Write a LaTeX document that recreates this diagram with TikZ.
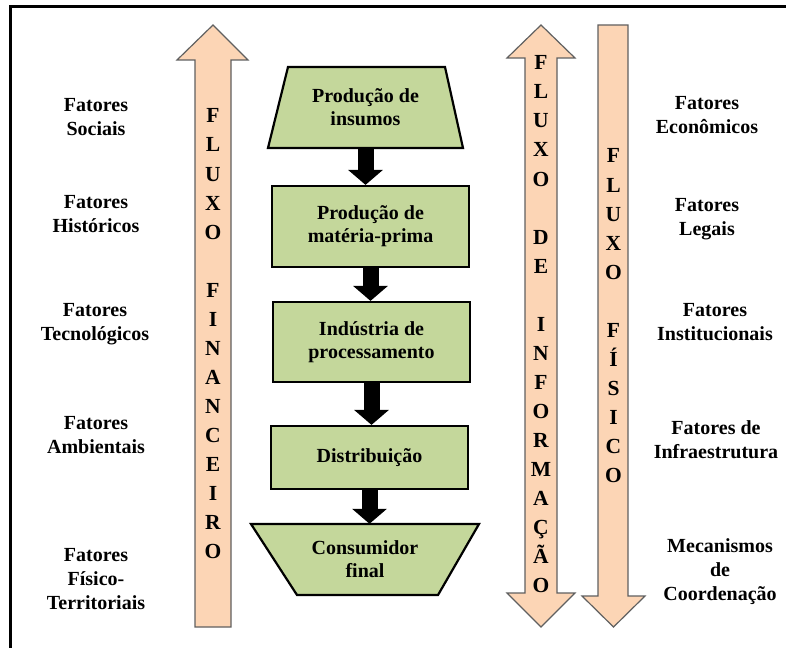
\documentclass[tikz,border=0pt]{standalone}
\usepackage{fontspec}
\setmainfont{Liberation Serif}
\usetikzlibrary{arrows.meta}
\definecolor{boxgreen}{HTML}{C4D79B}
\definecolor{peach}{HTML}{FCD5B5}
\definecolor{arrgray}{HTML}{606060}
\begin{document}
\begin{tikzpicture}[x=1pt,y=-1pt,
  lbl/.style={font=\bfseries\fontsize{20}{24}\selectfont, align=center, inner sep=0pt},
  letter/.style={font=\bfseries\fontsize{21.5}{24}\selectfont, anchor=base, inner sep=0pt},
  stage/.style={draw=black, line width=2.2pt, fill=boxgreen, minimum width=197pt,
    font=\bfseries\fontsize{20}{23}\selectfont, align=center, inner sep=0pt},
  stagetext/.style={font=\bfseries\fontsize{20}{23}\selectfont, align=center, inner sep=0pt},
  stageshape/.style={draw=black, line width=2.2pt, fill=boxgreen, line join=miter},
  flow/.style={fill=peach, draw=arrgray, line width=1.2pt, line join=miter},
  link/.style={line width=16pt, black, -{Triangle[width=34pt,length=15pt]}}
]
\useasboundingbox (0,0) rectangle (786,647);
\clip (0,0) rectangle (786,647);
\fill[white] (0,0) rectangle (786,647);
% frame
\draw[line width=3pt] (10,7) rectangle (840,700);

% flow arrows
\draw[flow] (213,25) -- (248,60) -- (231,60) -- (231,627) -- (195,627) -- (195,60) -- (177,60) -- cycle;
\draw[flow] (541,25) -- (575,58) -- (557,58) -- (557,593) -- (575,593) -- (541,627)
  -- (507,593) -- (525,593) -- (525,58) -- (507,58) -- cycle;
\draw[flow] (598,25) -- (628,25) -- (628,596) -- (645,596) -- (613.5,627) -- (582,596) -- (598,596) -- cycle;

\foreach \l [count=\i] in {F,L,U,X,O,,F,I,N,A,N,C,E,I,R,O}
  \node[letter] (fin\i) at (213,{123+29*(\i-1)}) {\l};
\foreach \l [count=\i] in {F,L,U,X,O,,D,E,,I,N,F,O,R,M,A,Ç,Ã,O}
  \node[letter] (inf\i) at (541,{70+29*(\i-1)}) {\l};
\foreach \l [count=\i] in {F,L,U,X,O,,F,Í,S,I,C,O}
  \node[letter] (fis\i) at (613.5,{163+29*(\i-1)}) {\l};

% stages
\draw[stageshape] (268,148) -- (463,148) -- (445,67) -- (288,67) -- cycle;
\node[stagetext, minimum width=195pt, minimum height=81pt] (t1) at (365.5,107.5) {Produção de\\insumos};
\node[stage, minimum height=81pt] (b2) at (370.5,226.5) {Produção de\\matéria-prima};
\node[stage, minimum height=80pt] (b3) at (371.5,342) {Indústria de\\processamento};
\node[stage, minimum height=63pt] (b4) at (369.5,457.5) {Distribuição};
\draw[stageshape] (251,524) -- (479,524) -- (438,595) -- (297,595) -- cycle;
\node[stagetext, minimum width=228pt, minimum height=71pt] (t5) at (365,559.5) {Consumidor\\final};

\draw[link] (t1.south) -- (t1.south |- b2.north);
\draw[link] (b2.south) -- (b2.south |- b3.north);
\draw[link] (b3.south) -- (b3.south |- b4.north);
\draw[link] (b4.south) -- (b4.south |- t5.north);

% left labels
\node[lbl] (ls1) at (96,117) {Fatores\\Sociais};
\node[lbl] (ls2) at (96,214.5) {Fatores\\Históricos};
\node[lbl] (ls3) at (95,324) {Fatores\\Tecnológicos};
\node[lbl] (ls4) at (96,435.5) {Fatores\\Ambientais};
\node[lbl] (ls5) at (96,579) {Fatores\\Físico-\\Territoriais};
% right labels
\node[lbl] (rs1) at (707,115) {Fatores\\Econômicos};
\node[lbl] (rs2) at (707,219.5) {Fatores\\Legais};
\node[lbl] (rs3) at (715,322.5) {Fatores\\Institucionais};
\node[lbl] (rs4) at (716,440) {Fatores de\\Infraestrutura};
\node[lbl] (rs5) at (720,572) {Mecanismos\\de\\Coordenação};
\end{tikzpicture}
\end{document}
